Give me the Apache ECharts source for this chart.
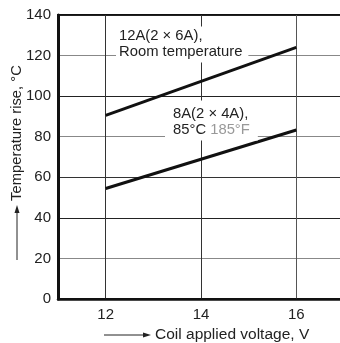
<!DOCTYPE html>
<html>
<head>
<meta charset="utf-8">
<script src="https://cdn.jsdelivr.net/npm/echarts@6/dist/echarts.min.js"></script>
<style>
html,body{margin:0;padding:0;background:#fff;}
#chart{width:340px;height:343px;}
</style>
</head>
<body>
<div id="chart"></div>
<script>
var xTicks = [12, 14, 16];
var yTicks = [0, 20, 40, 60, 80, 100, 120, 140];
var voltage = [12, 16];
var rise12A = [90.5, 124];
var rise8A = [54.5, 83.3];
var label12A = ['12A(2 × 6A),', 'Room temperature'];
var label8A = ['8A(2 × 4A),', '85°C', '185°F'];
var yTitle = 'Temperature rise, °C';
var xTitle = 'Coil applied voltage, V';

var FONT = "'Liberation Sans', Arial, Helvetica, sans-serif";

function pairs(xs, ys) { return xs.map(function (x, i) { return [x, ys[i]]; }); }

var chart = echarts.init(document.getElementById('chart'), null, {renderer: 'canvas'});
var option = {
  animation: false,
  backgroundColor: '#fff',
  grid: {
    left: 58, top: 15, width: 286, height: 284,
    outerBoundsMode: 'none', containLabel: false,
    show: true, borderColor: '#111', borderWidth: 2, backgroundColor: 'transparent'
  },
  xAxis: {
    type: 'value', min: 11, max: 17, interval: 1,
    axisLine: {show: true, onZero: false, lineStyle: {color: '#111', width: 2.5}},
    axisTick: {show: false},
    axisLabel: {
      margin: 8, fontSize: 15, fontFamily: FONT, color: '#222',
      formatter: function (v) { return xTicks.indexOf(v) >= 0 ? String(v) : ''; }
    },
    splitLine: {show: true, lineStyle: {width: 1, color: ['transparent', '#333', 'transparent', '#333', 'transparent', '#555', 'transparent']}}
  },
  yAxis: {
    type: 'value', min: yTicks[0], max: yTicks[yTicks.length - 1], interval: 20,
    axisLine: {show: true, lineStyle: {color: '#111', width: 3}},
    axisTick: {show: false},
    axisLabel: {margin: 7, fontSize: 15, fontFamily: FONT, color: '#222'},
    splitLine: {show: true, lineStyle: {width: 1, color: ['#222', '#888', '#222', '#333', '#888', '#222', '#888', '#222']}}
  },
  series: [
    {
      type: 'line', data: pairs(voltage, rise12A), symbol: 'none', z: 3,
      lineStyle: {color: '#111', width: 3},
      markPoint: {
        symbol: 'circle', symbolSize: 0, silent: true, z: 6,
        data: [{
          coord: [12.217, 134.3],
          label: {
            show: true, position: [0, 0], align: 'left', verticalAlign: 'top',
            formatter: label12A.join('\n'),
            fontSize: 14.8, fontFamily: FONT, color: '#222', lineHeight: 15.5,
            backgroundColor: '#fff', padding: [2, 6, 3, 3]
          }
        }]
      }
    },
    {
      type: 'line', data: pairs(voltage, rise8A), symbol: 'none', z: 3,
      lineStyle: {color: '#111', width: 3},
      markPoint: {
        symbol: 'circle', symbolSize: 0, silent: true, z: 6,
        data: [{
          coord: [13.245, 97.8],
          label: {
            show: true, position: [0, 0], align: 'left', verticalAlign: 'top',
            formatter: label8A[0] + '\n' + label8A[1] + ' {g|' + label8A[2] + '}',
            fontSize: 14.8, fontFamily: FONT, color: '#222', lineHeight: 15.5,
            backgroundColor: '#fff', padding: [6, 8, 3, 8],
            rich: {g: {color: '#999', fontSize: 14.8, fontFamily: FONT, lineHeight: 15.5}}
          }
        }]
      }
    }
  ],
  graphic: [
    {
      type: 'text', x: 17, y: 133, rotation: Math.PI / 2, silent: true,
      style: {text: yTitle, font: '14.8px ' + FONT, fill: '#222', align: 'center', verticalAlign: 'middle'}
    },
    {type: 'line', silent: true, shape: {x1: 17, y1: 260, x2: 17, y2: 212}, style: {stroke: '#222', lineWidth: 1}},
    {type: 'polygon', silent: true, shape: {points: [[17, 205], [14.5, 213], [19.5, 213]]}, style: {fill: '#222'}},
    {
      type: 'text', x: 155, y: 335, silent: true,
      style: {text: xTitle, font: '15.5px ' + FONT, fill: '#222', align: 'left', verticalAlign: 'middle'}
    },
    {type: 'line', silent: true, shape: {x1: 104, y1: 335, x2: 145, y2: 335}, style: {stroke: '#222', lineWidth: 1}},
    {type: 'polygon', silent: true, shape: {points: [[151, 335], [143, 332.5], [143, 337.5]]}, style: {fill: '#222'}}
  ]
};
chart.setOption(option);
</script>
</body>
</html>
